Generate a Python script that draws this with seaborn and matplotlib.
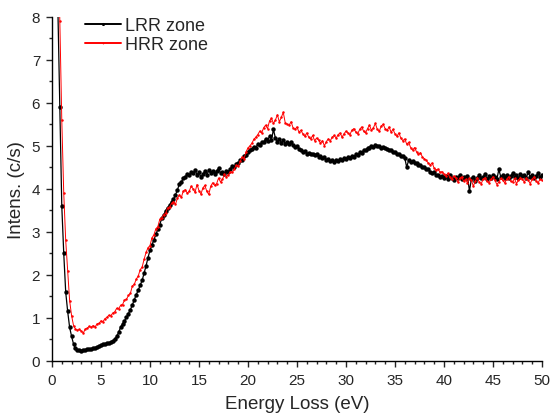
import numpy as np
import pandas as pd
import matplotlib
matplotlib.use("Agg")
import matplotlib.pyplot as plt
from matplotlib.ticker import MultipleLocator
import seaborn as sns

# energy grid (eV), 0.2 eV steps from 0.2 to 50.0
energy = np.round(np.arange(1, 251) * 0.2, 1)

# LRR zone intensity (c/s)
lrr = [
    16.0, 11.0, 8.2, 5.9, 3.6, 2.5, 1.6, 1.15, 0.78, 0.57,
    0.39, 0.29, 0.26, 0.25, 0.24, 0.26, 0.25, 0.27, 0.28, 0.28,
    0.30, 0.31, 0.32, 0.35, 0.36, 0.38, 0.38, 0.41, 0.42, 0.43,
    0.47, 0.50, 0.57, 0.66, 0.78, 0.86, 0.93, 1.01, 1.10, 1.19,
    1.30, 1.42, 1.54, 1.64, 1.76, 1.87, 2.04, 2.21, 2.40, 2.57,
    2.70, 2.81, 2.94, 3.06, 3.17, 3.31, 3.39, 3.49, 3.56, 3.62,
    3.70, 3.76, 3.86, 3.97, 4.12, 4.16, 4.24, 4.27, 4.35, 4.31,
    4.40, 4.36, 4.44, 4.33, 4.38, 4.28, 4.34, 4.41, 4.32, 4.43,
    4.37, 4.42, 4.35, 4.41, 4.48, 4.36, 4.38, 4.34, 4.42, 4.40,
    4.47, 4.52, 4.50, 4.58, 4.60, 4.66, 4.68, 4.76, 4.79, 4.86,
    4.90, 4.93, 4.98, 4.95, 5.04, 5.01, 5.10, 5.08, 5.16, 5.12,
    5.22, 5.14, 5.38, 5.18, 5.10, 5.16, 5.07, 5.13, 5.05, 5.10,
    5.04, 5.08, 5.02, 4.98, 5.00, 4.92, 4.90, 4.86, 4.88, 4.82,
    4.84, 4.80, 4.82, 4.78, 4.80, 4.74, 4.76, 4.72, 4.73, 4.68,
    4.69, 4.64, 4.66, 4.62, 4.67, 4.64, 4.70, 4.67, 4.72, 4.70,
    4.74, 4.72, 4.77, 4.75, 4.80, 4.79, 4.85, 4.84, 4.90, 4.90,
    4.95, 4.94, 5.00, 4.97, 5.03, 4.99, 5.00, 4.96, 4.98, 4.94,
    4.93, 4.90, 4.90, 4.85, 4.86, 4.81, 4.82, 4.77, 4.77, 4.72,
    4.50, 4.67, 4.63, 4.65, 4.59, 4.61, 4.56, 4.56, 4.50, 4.51,
    4.45, 4.46, 4.40, 4.37, 4.38, 4.32, 4.33, 4.28, 4.30, 4.25,
    4.29, 4.23, 4.31, 4.26, 4.21, 4.28, 4.24, 4.33, 4.22, 4.27,
    4.25, 4.30, 3.95, 4.22, 4.28, 4.19, 4.26, 4.31, 4.24, 4.28,
    4.35, 4.23, 4.29, 4.25, 4.32, 4.27, 4.22, 4.45, 4.28, 4.31,
    4.26, 4.33, 4.24, 4.30, 4.36, 4.27, 4.31, 4.25, 4.34, 4.29,
    4.32, 4.26, 4.38, 4.28, 4.33, 4.24, 4.30, 4.36, 4.27, 4.31,
]

# HRR zone intensity (c/s)
hrr = [
    20.0, 14.0, 10.0, 7.9, 5.6, 3.9, 2.8, 2.1, 1.4, 1.05,
    0.82, 0.74, 0.71, 0.73, 0.69, 0.65, 0.74, 0.76, 0.80, 0.78,
    0.82, 0.79, 0.86, 0.87, 0.93, 0.91, 0.98, 1.01, 1.06, 1.05,
    1.11, 1.14, 1.22, 1.21, 1.29, 1.31, 1.41, 1.43, 1.52, 1.57,
    1.74, 1.78, 1.90, 1.97, 2.12, 2.18, 2.36, 2.52, 2.63, 2.68,
    2.86, 2.93, 3.07, 3.12, 3.29, 3.33, 3.40, 3.43, 3.56, 3.58,
    3.66, 3.70, 3.64, 3.78, 3.86, 3.80, 3.95, 3.98, 3.90, 3.94,
    4.06, 4.00, 3.92, 4.10, 3.96, 3.88, 4.02, 4.08, 3.94, 3.87,
    4.06, 4.14, 4.08, 4.12, 4.25, 4.16, 4.22, 4.34, 4.28, 4.33,
    4.40, 4.38, 4.46, 4.55, 4.52, 4.64, 4.74, 4.70, 4.86, 4.95,
    5.00, 5.06, 5.15, 5.20, 5.26, 5.34, 5.30, 5.42, 5.48, 5.40,
    5.58, 5.64, 5.52, 5.60, 5.72, 5.56, 5.66, 5.78, 5.54, 5.50,
    5.48, 5.56, 5.42, 5.38, 5.44, 5.32, 5.36, 5.28, 5.22, 5.30,
    5.20, 5.16, 5.24, 5.12, 5.18, 5.14, 5.06, 5.12, 5.00, 5.10,
    5.16, 5.12, 5.20, 5.24, 5.18, 5.26, 5.30, 5.20, 5.28, 5.34,
    5.30, 5.26, 5.36, 5.40, 5.32, 5.28, 5.38, 5.44, 5.34, 5.30,
    5.40, 5.48, 5.36, 5.42, 5.52, 5.38, 5.34, 5.46, 5.50, 5.40,
    5.36, 5.44, 5.32, 5.38, 5.28, 5.22, 5.30, 5.18, 5.12, 5.16,
    5.04, 5.08, 4.96, 4.90, 4.96, 4.86, 4.80, 4.84, 4.74, 4.70,
    4.66, 4.60, 4.56, 4.60, 4.48, 4.44, 4.46, 4.38, 4.40, 4.34,
    4.30, 4.36, 4.28, 4.22, 4.30, 4.26, 4.16, 4.24, 4.28, 4.18,
    4.22, 4.14, 4.24, 4.20, 4.06, 4.18, 4.26, 4.16, 4.12, 4.22,
    4.26, 4.18, 4.14, 4.22, 4.28, 4.20, 4.10, 4.16, 4.24, 4.20,
    4.14, 4.22, 4.28, 4.18, 4.16, 4.24, 4.12, 4.20, 4.26, 4.22,
    4.16, 4.24, 4.20, 4.12, 4.22, 4.28, 4.18, 4.14, 4.22, 4.20,
]

df = pd.DataFrame({"energy": energy, "LRR": lrr, "HRR": hrr})

sns.set_style("ticks")
plt.rcParams["font.family"] = ["Liberation Sans", "DejaVu Sans"]

fig = plt.figure(figsize=(5.53, 4.14), dpi=100)
ax = fig.add_axes([0.094, 0.126, 0.886, 0.831])

sns.lineplot(data=df, x="energy", y="LRR", ax=ax, color="black", lw=0.9,
             marker="o", markersize=3.2, markeredgewidth=0, estimator=None,
             label="LRR zone")
sns.lineplot(data=df, x="energy", y="HRR", ax=ax, color="red", lw=0.7,
             marker="o", markersize=1.8, markeredgewidth=0, estimator=None,
             label="HRR zone")

ax.set_xlim(0, 50)
ax.set_ylim(0, 8)
ax.xaxis.set_major_locator(MultipleLocator(5))
ax.xaxis.set_minor_locator(MultipleLocator(1))
ax.yaxis.set_major_locator(MultipleLocator(1))
ax.yaxis.set_minor_locator(MultipleLocator(0.5))
ax.tick_params(which="major", direction="out", length=4.5, width=1,
               labelsize=11, pad=4)
ax.tick_params(which="minor", direction="out", length=2.5, width=1)
sns.despine(ax=ax)
for s in ["left", "bottom"]:
    ax.spines[s].set_linewidth(1)
    ax.spines[s].set_color("black")

ax.set_xlabel("Energy Loss (eV)", fontsize=13.5, labelpad=6)
ax.set_ylabel("Intens. (c/s)", fontsize=13.5, labelpad=5)
leg = ax.legend(loc="upper left", bbox_to_anchor=(0.052, 1.02), frameon=False,
                fontsize=13, handlelength=2.0, handletextpad=0.25,
                labelspacing=0.1, borderaxespad=0, markerscale=0.7)
for h in leg.get_lines():
    h.set_linewidth(1.4)

fig.savefig("out.png", dpi=100)
